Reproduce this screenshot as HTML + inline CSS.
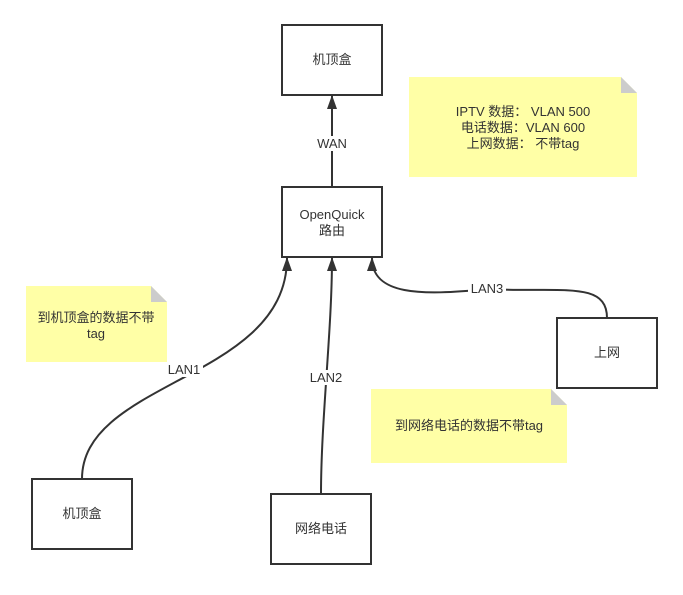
<!DOCTYPE html>
<html><head><meta charset="utf-8"><style>
body{margin:0;background:#fff;width:683px;height:590px;overflow:hidden}
text{font-family:"Liberation Sans","Noto Sans CJK SC",sans-serif;font-size:13px;fill:#333;text-anchor:middle}
</style></head><body>
<svg width="683" height="590" viewBox="0 0 683 590" xmlns="http://www.w3.org/2000/svg">
<defs><marker id="a" markerWidth="14" markerHeight="10" refX="13" refY="5" orient="auto" markerUnits="userSpaceOnUse" viewBox="0 0 14 10"><path d="M0,0 L14,5 L0,10 Z" fill="#333"/></marker></defs>
<g fill="#fff" stroke="#333" stroke-width="2">
<rect x="282" y="25" width="100" height="70"/>
<rect x="282" y="187" width="100" height="70"/>
<rect x="32" y="479" width="100" height="70"/>
<rect x="271" y="494" width="100" height="70"/>
<rect x="557" y="318" width="100" height="70"/>
</g>
<path d="M409,77 H621 L637,93 V177 H409 Z" fill="#ffffa6"/><path d="M621,77 L637,93 H621 Z" fill="#ccc"/>
<path d="M26,286 H151 L167,302 V362 H26 Z" fill="#ffffa6"/><path d="M151,286 L167,302 H151 Z" fill="#ccc"/>
<path d="M371,389 H551 L567,405 V463 H371 Z" fill="#ffffa6"/><path d="M551,389 L567,405 H551 Z" fill="#ccc"/>
<g fill="none" stroke="#333" stroke-width="2" marker-end="url(#a)">
<path d="M332,187 V96"/>
<path d="M82,479 C82,380 287,380 287,258"/>
<path d="M321,494 C321,420 332,330 332,258"/>
<path d="M607,318 C607,280 560,293 487,289 C420,296 372,295 372,258"/>
</g>
<rect x="313" y="136" width="38" height="15" fill="#fff"/><text x="332" y="148">WAN</text>
<rect x="165" y="362" width="38" height="15" fill="#fff"/><text x="184" y="374">LAN1</text>
<rect x="307" y="370" width="38" height="15" fill="#fff"/><text x="326" y="382">LAN2</text>
<rect x="468" y="281" width="38" height="15" fill="#fff"/><text x="487" y="293">LAN3</text>
<text x="332" y="64">机顶盒</text>
<text x="332" y="219">OpenQuick</text><text x="332" y="235">路由</text>
<text x="82" y="518">机顶盒</text>
<text x="321" y="533">网络电话</text>
<text x="607" y="357">上网</text>
<text x="523" y="116">IPTV 数据：  VLAN 500</text>
<text x="523" y="132">电话数据：VLAN 600</text>
<text x="523" y="148">上网数据：  不带tag</text>
<text x="96" y="322">到机顶盒的数据不带</text>
<text x="96" y="338">tag</text>
<text x="469" y="430">到网络电话的数据不带tag</text>
</svg>
</body></html>
